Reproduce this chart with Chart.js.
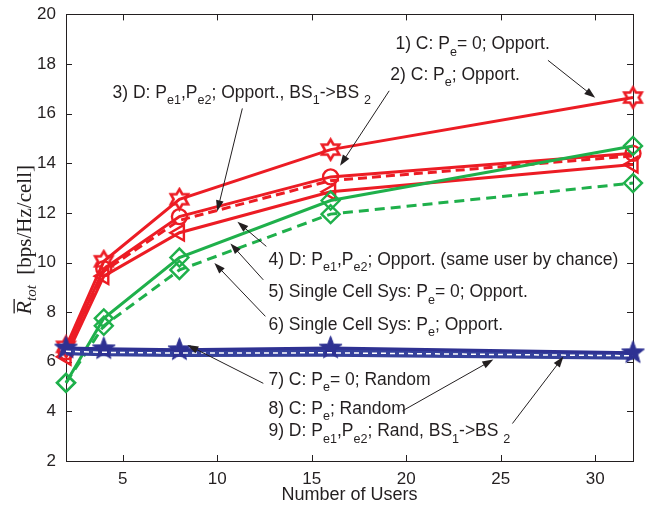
<!DOCTYPE html>
<html>
<head>
<meta charset="utf-8">
<script src="https://cdn.jsdelivr.net/npm/chart.js@4.4.0/dist/chart.umd.min.js"></script>
<style>
  body { margin: 0; background: #fff; }
</style>
</head>
<body>
<canvas id="chart" width="651" height="512"></canvas>
<script>
// number of users (x axis)
var users = [2, 4, 8, 16, 32];

// average rate per cell [bps/Hz/cell], one array per curve
var cOpportNoErr    = [6.6, 10.05, 12.55, 14.55, 16.65];
var cOpport         = [6.4, 9.75, 11.85, 13.45, 14.4];
var dOpportHandover = [6.4, 9.65, 11.7, 13.3, 14.3];
var dOpportSameUser = [6.2, 9.45, 11.2, 12.85, 13.95];
var singleNoErr     = [5.15, 7.75, 10.2, 12.5, 14.7];
var singleErr       = [5.15, 7.45, 9.7, 11.95, 13.2];
var cRandomNoErr    = [6.55, 6.52, 6.48, 6.55, 6.36];
var cRandom         = [6.42, 6.38, 6.35, 6.36, 6.24];
var dRandHandover   = [6.42, 6.38, 6.35, 6.36, 6.24];

var xTicks = [5, 10, 15, 20, 25, 30];
var yTicks = [2, 4, 6, 8, 10, 12, 14, 16, 18, 20];

// text labels with arrows, positions in data units (x, baseline y), arrow from -> to
var notes = [
  { text: '1) C: P_{e}= 0; Opport.', x: 19.43, y: 18.59, from: [27.5, 18.15], to: [30.0, 16.64] },
  { text: '2) C: P_{e}; Opport.', x: 19.16, y: 17.36, from: [19.1, 16.92], to: [16.5, 13.9] },
  { text: '3) D: P_{e1},P_{e2}; Opport., BS_{1}->BS _{2}', x: 4.46, y: 16.64, from: [11.33, 16.21], to: [10.0, 12.06] },
  { text: '4) D: P_{e1},P_{e2}; Opport. (same user by chance)', x: 12.71, y: 9.9, from: [12.6, 10.65], to: [11.07, 11.64] },
  { text: '5) Single Cell Sys: P_{e}= 0; Opport.', x: 12.71, y: 8.59, from: [12.44, 9.3], to: [10.7, 10.77] },
  { text: '6) Single Cell Sys: P_{e}; Opport.', x: 12.71, y: 7.28, from: [12.55, 7.83], to: [9.85, 9.98] },
  { text: '7) C: P_{e}= 0; Random', x: 12.71, y: 5.06, from: [12.44, 5.13], to: [8.42, 6.68] },
  { text: '8) C: P_{e}; Random', x: 12.71, y: 3.9, from: [19.8, 4.02], to: [24.61, 6.09] },
  { text: '9) D: P_{e1},P_{e2}; Rand, BS_{1}->BS _{2}', x: 12.71, y: 2.99, from: [25.62, 3.51], to: [28.32, 6.21] }
];

var RED = '#ec1c24';
var GREEN = '#1fb04b';
var BLUE = '#2e3192';
var INK = '#231f20';
var FONT = '"Liberation Sans", Arial, sans-serif';

function pts(vals) {
  return users.map(function(u, i) { return { x: u, y: vals[i] }; });
}

// star shaped marker drawn on a small canvas
function starMarker(n, outer, inner, fill, stroke, lw) {
  var size = Math.ceil(outer * 2 + lw + 2);
  var c = document.createElement('canvas');
  c.width = size; c.height = size;
  var g = c.getContext('2d');
  g.translate(size / 2, size / 2);
  g.beginPath();
  for (var i = 0; i < n * 2; i++) {
    var r = i % 2 === 0 ? outer : inner;
    var a = -Math.PI / 2 + i * Math.PI / n;
    if (i === 0) g.moveTo(r * Math.cos(a), r * Math.sin(a));
    else g.lineTo(r * Math.cos(a), r * Math.sin(a));
  }
  g.closePath();
  if (fill) { g.fillStyle = fill; g.fill(); }
  g.lineWidth = lw; g.strokeStyle = stroke; g.stroke();
  return c;
}

var hexagram = starMarker(6, 10, 5.8, null, RED, 2.6);
var pentagram = starMarker(5, 12, 5, BLUE, BLUE, 1);

// draw text with _{...} subscripts, returns width
function richText(ctx, str, x, y, size, draw) {
  var parts = str.split(/_\{([^}]*)\}/);
  var cx = x;
  for (var i = 0; i < parts.length; i++) {
    var sub = i % 2 === 1;
    var fs = sub ? size * 0.72 : size;
    ctx.font = fs + 'px ' + FONT;
    if (draw) ctx.fillText(parts[i], cx, sub ? y + size * 0.36 : y);
    cx += ctx.measureText(parts[i]).width;
  }
  return cx - x;
}

var decorations = {
  id: 'decorations',
  beforeDatasetsDraw: function(chart) {
    var ctx = chart.ctx, a = chart.chartArea;
    var xs = chart.scales.x, ys = chart.scales.y;
    ctx.save();
    ctx.strokeStyle = INK;
    ctx.lineWidth = 1;
    ctx.strokeRect(Math.round(a.left) + 0.5, Math.round(a.top) + 0.5,
      Math.round(a.right - a.left), Math.round(a.bottom - a.top));
    ctx.beginPath();
    xTicks.forEach(function(v) {
      var px = Math.round(xs.getPixelForValue(v)) + 0.5;
      ctx.moveTo(px, a.bottom); ctx.lineTo(px, a.bottom - 6);
      ctx.moveTo(px, a.top); ctx.lineTo(px, a.top + 6);
    });
    yTicks.forEach(function(v) {
      var py = Math.round(ys.getPixelForValue(v)) + 0.5;
      ctx.moveTo(a.left, py); ctx.lineTo(a.left + 6, py);
      ctx.moveTo(a.right, py); ctx.lineTo(a.right - 6, py);
    });
    ctx.stroke();
    ctx.restore();
  },
  afterDraw: function(chart) {
    var ctx = chart.ctx, a = chart.chartArea;
    var xs = chart.scales.x, ys = chart.scales.y;
    ctx.save();
    ctx.fillStyle = INK;
    ctx.strokeStyle = INK;
    ctx.textBaseline = 'alphabetic';
    notes.forEach(function(n) {
      richText(ctx, n.text, xs.getPixelForValue(n.x), ys.getPixelForValue(n.y), 17.5, true);
      var x0 = xs.getPixelForValue(n.from[0]), y0 = ys.getPixelForValue(n.from[1]);
      var x1 = xs.getPixelForValue(n.to[0]), y1 = ys.getPixelForValue(n.to[1]);
      var ang = Math.atan2(y1 - y0, x1 - x0);
      ctx.lineWidth = 1;
      ctx.beginPath();
      ctx.moveTo(x0, y0); ctx.lineTo(x1 - 8 * Math.cos(ang), y1 - 8 * Math.sin(ang));
      ctx.stroke();
      ctx.beginPath();
      ctx.moveTo(x1, y1);
      ctx.lineTo(x1 - 11 * Math.cos(ang) + 3.8 * Math.sin(ang), y1 - 11 * Math.sin(ang) - 3.8 * Math.cos(ang));
      ctx.lineTo(x1 - 11 * Math.cos(ang) - 3.8 * Math.sin(ang), y1 - 11 * Math.sin(ang) + 3.8 * Math.cos(ang));
      ctx.closePath();
      ctx.fill();
    });

    // y axis title: R-bar_tot [bps/Hz/cell]
    var serif = '"Liberation Serif", "DejaVu Serif", serif';
    ctx.translate(31, (a.top + a.bottom) / 2 + 2);
    ctx.rotate(-Math.PI / 2);
    ctx.font = 'italic 22px ' + serif;
    var wR = ctx.measureText('R').width;
    ctx.font = 'italic 15px ' + serif;
    var wT = ctx.measureText('tot').width;
    ctx.font = '21px ' + serif;
    var rest = '  [bps/Hz/cell]';
    var wS = ctx.measureText(rest).width;
    var x = -(wR + wT + wS) / 2;
    ctx.font = 'italic 22px ' + serif;
    ctx.fillText('R', x, 0);
    ctx.fillRect(x + 1, -17.5, wR + 1, 1.3);
    ctx.font = 'italic 15px ' + serif;
    ctx.fillText('tot', x + wR, 5);
    ctx.font = '21px ' + serif;
    ctx.fillText(rest, x + wR + wT, 0);
    ctx.restore();
  }
};

function line(vals, color, extra) {
  var d = {
    data: pts(vals),
    borderColor: color,
    backgroundColor: 'rgba(0,0,0,0)',
    borderWidth: 3,
    pointBorderWidth: 2.4,
    pointRadius: 0,
    clip: false,
    tension: 0
  };
  for (var k in extra) d[k] = extra[k];
  return d;
}

new Chart(document.getElementById('chart'), {
  type: 'line',
  data: {
    datasets: [
      line(cOpportNoErr, RED, { label: '1) C: Pe=0; Opport.', pointStyle: hexagram, pointRadius: 10, order: 9 }),
      line(cOpport, RED, { label: '2) C: Pe; Opport.', pointStyle: 'circle', pointRadius: 7.5, order: 7 }),
      line(dOpportHandover, RED, { label: '3) D: Pe1,Pe2; Opport., BS1->BS2', borderDash: [9, 5], order: 6 }),
      line(dOpportSameUser, RED, { label: '4) D: Pe1,Pe2; Opport. (same user by chance)', pointStyle: 'triangle', pointRotation: -90, pointRadius: 9, order: 8 }),
      line(singleNoErr, GREEN, { label: '5) Single Cell Sys: Pe=0; Opport.', pointStyle: 'rectRot', pointRadius: 9, order: 5 }),
      line(singleErr, GREEN, { label: '6) Single Cell Sys: Pe; Opport.', pointStyle: 'rectRot', pointRadius: 9, borderDash: [10, 6], order: 4 }),
      line(cRandom, BLUE, { label: '8) C: Pe; Random', borderColor: '#35419c', borderWidth: 8, order: 3 }),
      line(cRandomNoErr, BLUE, { label: '7) C: Pe=0; Random', pointStyle: pentagram, pointRadius: 12, order: 2 }),
      line(dRandHandover, '#ffffff', { label: '9) D: Pe1,Pe2; Rand, BS1->BS2', borderWidth: 1.5, borderDash: [5, 4], order: 1 })
    ]
  },
  options: {
    responsive: false,
    animation: false,
    layout: { padding: { top: 7.5, right: 18, bottom: 0, left: 0 } },
    plugins: { legend: { display: false }, tooltip: { enabled: false } },
    scales: {
      x: {
        type: 'linear', min: 2, max: 32,
        grid: { display: false, drawTicks: false },
        border: { display: false },
        afterBuildTicks: function(s) { s.ticks = xTicks.map(function(v) { return { value: v }; }); },
        afterFit: function(s) { s.height = 51; s.paddingLeft = 0; s.paddingRight = 0; },
        ticks: { font: { family: FONT, size: 17 }, color: INK, padding: 8, maxRotation: 0, autoSkip: false },
        title: { display: true, text: 'Number of Users', font: { family: FONT, size: 18 }, color: INK, padding: { top: 0, bottom: 6 } }
      },
      y: {
        type: 'linear', min: 2, max: 20,
        grid: { display: false, drawTicks: false },
        border: { display: false },
        afterBuildTicks: function(s) { s.ticks = yTicks.map(function(v) { return { value: v }; }); },
        afterFit: function(s) { s.width = 66; s.paddingTop = 0; s.paddingBottom = 0; },
        ticks: { font: { family: FONT, size: 17 }, color: INK, padding: 10 }
      }
    }
  },
  plugins: [decorations]
});
</script>
</body>
</html>
